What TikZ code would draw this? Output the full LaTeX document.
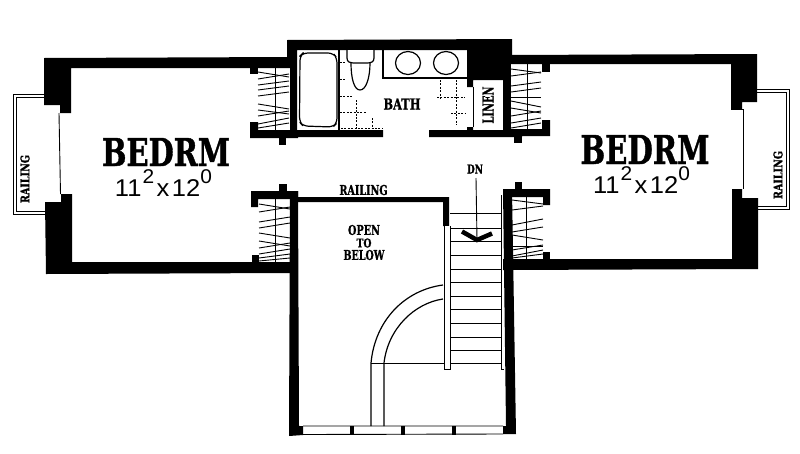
\documentclass[tikz,border=0pt]{standalone}
\usepackage{graphicx}
\usepackage{fontspec}
\setmainfont[BoldFeatures={FakeBold=1.2}]{DejaVu Serif}
\newfontfamily\dimfont{Liberation Sans}
\newcommand{\lab}[3]{\resizebox{#1pt}{#2pt}{\bfseries #3}}
\newcommand{\dimtext}{\resizebox{97pt}{26pt}{\dimfont 11\hspace{0.04em}\raisebox{0.5em}{\fontsize{8.2}{8.2}\selectfont 2}\hspace{0.1em}x\hspace{0.1em}12\raisebox{0.5em}{\fontsize{8.2}{8.2}\selectfont 0}}}
% closet: xl, xr, xrod, ytop, ybot, list of yl/yr
\newcommand{\closet}[6]{%
  \draw[rod] (#3,#4) -- (#3,#5);
  \foreach \a/\b in {#6} {\draw[shelf] (#1,\a) -- (#2,\b);}
}
\tikzset{
  wall/.style={fill=black,draw=none},
  rod/.style={line width=0.9pt},
  shelf/.style={line width=0.9pt},
  thin line/.style={line width=0.9pt},
  fixture/.style={line width=1.2pt},
  tile/.style={line width=0.8pt,dash pattern=on 2pt off 1.4pt},
  lbl/.style={inner sep=0pt,outer sep=0pt,anchor=center},
}
\begin{document}
\begin{tikzpicture}[x=1pt,y=-1pt]
\useasboundingbox (0,0) rectangle (800,453);
\fill[white] (0,0) rectangle (800,453);

% ---------- left wing walls
\fill[wall] (44,58) -- (290,57) -- (290,68) -- (71,68) -- (71,113) -- (60,113) -- (60,105) -- (44,105) -- cycle;
\fill[wall] (61,194) -- (72,194) -- (72,262) -- (290,262) -- (290,273) -- (46,274) -- (45,202) -- (61,202) -- cycle;
% left closets
\fill[wall] (250,67) rectangle (258,74);
\fill[wall] (250,122) -- (258,122) -- (258,130) -- (298,130) -- (298,138) -- (250,138) -- cycle;
\fill[wall] (279,137) rectangle (286,145);
\fill[wall] (251,191) -- (298,191) -- (298,199) -- (258,199) -- (258,207) -- (251,207) -- cycle;
\fill[wall] (279,184) rectangle (287,192);
\fill[wall] (252,255) rectangle (259,263);

% ---------- bath walls
\fill[wall] (287,40) -- (512,39) -- (512,56) -- (503,56) -- (503,130) -- (522,130) -- (522,137) -- (429,137) -- (429,130) -- (467,130) -- (467,127) -- (473,127) -- (473,130) -- (510,130) -- (510,80) -- (473,80) -- (473,87) -- (467,87) -- (467,50) -- (297,50) -- (297,130) -- (383,130) -- (383,137) -- (290,137) -- (290,58) -- (287,58) -- cycle;
\fill[wall] (503,50) rectangle (511,130);
\fill[wall] (514,136) rectangle (522,143);

% ---------- right wing walls
\fill[wall] (505,55) -- (757,54) -- (757,102) -- (742,102) -- (742,109) -- (731,109) -- (731,64) -- (505,64) -- cycle;
\fill[wall] (732,189) -- (742,189) -- (742,198) -- (758,198) -- (758,269) -- (503,270) -- (503,259) -- (732,259) -- cycle;
\fill[wall] (542,60) rectangle (550,72);
\fill[wall] (542,120) -- (550,120) -- (550,136) -- (503,136) -- (503,129) -- (542,129) -- cycle;
\fill[wall] (503,189) -- (550,189) -- (550,205) -- (543,205) -- (543,197) -- (503,197) -- cycle;
\fill[wall] (515,182) rectangle (522,190);
\fill[wall] (543,252) rectangle (550,260);

% ---------- stairwell walls
\fill[wall] (290,191) -- (298,191) -- (299,426) -- (303,426) -- (303,435) -- (289,436) -- cycle;
\fill[wall] (503,190) -- (512,190) -- (516,434) -- (503,434) -- (503,426) -- (506,426) -- cycle;
\fill[wall] (297,197) -- (449,197) -- (449,226) -- (443,226) -- (443,202) -- (297,202) -- cycle;
% window wall at the bottom
\draw[thin line] (303,426) -- (503,426) (303,434.5) -- (503,434);
\fill[wall] (350,426) rectangle (354,435);
\fill[wall] (401,426) rectangle (405,435);
\fill[wall] (452,426) rectangle (456,435);

% ---------- balconies and glazing
\draw[thin line] (59,113) -- (60.5,194);
\draw[thin line] (44,94) -- (13,94) -- (13,214) -- (45,214);
\draw[thin line] (44,97) -- (16,97) -- (16,211) -- (45,211);
\draw[thin line] (731,109) -- (743,109) -- (743,189);
\draw[thin line] (757,89) -- (789,89) -- (789,209) -- (758,209);
\draw[thin line] (757,92) -- (786.5,92) -- (786.5,206) -- (758,206);

% ---------- closets
\closet{258}{289}{275}{68}{130}{72/77,79/74,85/81,90/86,96/92,104/109,110/114,116/111,124/118,128/123}
\closet{259}{290}{275}{199}{262}{204/209,212/207,222/217,228/223,233/238,241/246,248/243,254/249,258/254,261/258}
\closet{511}{541}{527}{64}{129}{69/73,76/72,86/82,92/88,97/97,101/107,108/113,116/111,123/118,128/123}
\closet{512}{543}{526}{197}{259}{200/204,210/206,225/219,232/227,235/240,246/246,256/250,250/245,258/254}

% ---------- tub
\draw[fixture] (339,50) -- (339,130);
\draw[fixture,rounded corners=5pt] (300,56) -- (303,53) -- (333,53) -- (337,58) -- (337,123) -- (333,127) -- (303,126) -- (299.5,122) -- cycle;
% toilet
\draw[fixture,fill=white] (347,50) -- (347,58) .. controls (347,62) and (350,63) .. (353,63) -- (367,63) .. controls (371,63) and (374,62) .. (374,58) -- (374,50);
\draw[fixture] (351,63) .. controls (351,78) and (354,90) .. (360,90) .. controls (366,90) and (370,78) .. (370,63);
% counter and basins
\draw[fixture] (383,50) -- (383,78) -- (467,78);
\draw[fixture] (408,63) ellipse [x radius=12.5,y radius=11.5];
\draw[fixture] (446,63) ellipse [x radius=12.5,y radius=11.5];
% tiles
\draw[tile] (340,62) -- (345,62) (340,79) -- (345,79) (340,96) -- (353,96) (340,112) -- (367,112) (356,100) -- (356,128) (372,118) -- (372,128) (341,128.5) -- (382,128.5);
\draw[tile] (440,80) -- (440,100) (456,80) -- (456,125) (437,97) -- (465,97) (451,113) -- (465,113);
% linen
\draw[thin line] (473.5,87) -- (473.5,127);

% ---------- stairs
\draw[thin line,fill=white] (444,226) -- (444,369) -- (450,369) -- (450,226);
\foreach \y in {213,228,241,255,269,282,296,309,323,337,350,363}
  \draw[thin line] (450,\y) -- (501,\y);
\draw[thin line] (501,195) -- (501,369) -- (504,369);
\draw[thin line] (384,363) -- (444,363);
% curved rail
\draw[line width=1.2pt] (443,285) .. controls (405,290) and (375,320) .. (371,363) -- (371,426);
\draw[line width=1.2pt] (443,299) .. controls (415,303) and (388,328) .. (384,363) -- (384,426);
\draw[thin line] (371,363) -- (384,363);
% DN arrow
\coordinate (dntop) at (476,178);
\coordinate (dntip) at (477,240);
\draw[thin line] (dntop) -- (dntip);
\draw[line width=4.5pt,miter limit=10] (462,231.5) -- (dntip) -- (492,233.5);

% ---------- labels
\node[lbl] (bedl) at (166,152) {\lab{128}{28}{BEDRM}};
\node[lbl] (dimL) at (163.5,183) {\dimtext};
\node[lbl] (bedr) at (645,149.5) {\lab{129}{29}{BEDRM}};
\node[lbl] (dimR) at (641.5,180) {\dimtext};
\node[lbl,rotate=90] (railL) at (25,179) {\lab{48}{9}{RAILING}};
\node[lbl,rotate=90] (railR) at (778,175) {\lab{48}{9}{RAILING}};
\node[lbl] (bath) at (402,104) {\lab{37}{11}{BATH}};
\node[lbl,rotate=90] (linen) at (488,105) {\lab{37}{11}{LINEN}};
\node[lbl] (railM) at (363.5,190) {\lab{48}{10}{RAILING}};
\node[lbl] (dn) at (475,169) {\lab{16}{9}{DN}};
\node[lbl] (open) at (364,230) {\lab{32}{10}{OPEN}};
\node[lbl] (to) at (364,243) {\lab{15}{9}{TO}};
\node[lbl] (below) at (364,255) {\lab{41}{10}{BELOW}};
\end{tikzpicture}
\end{document}
